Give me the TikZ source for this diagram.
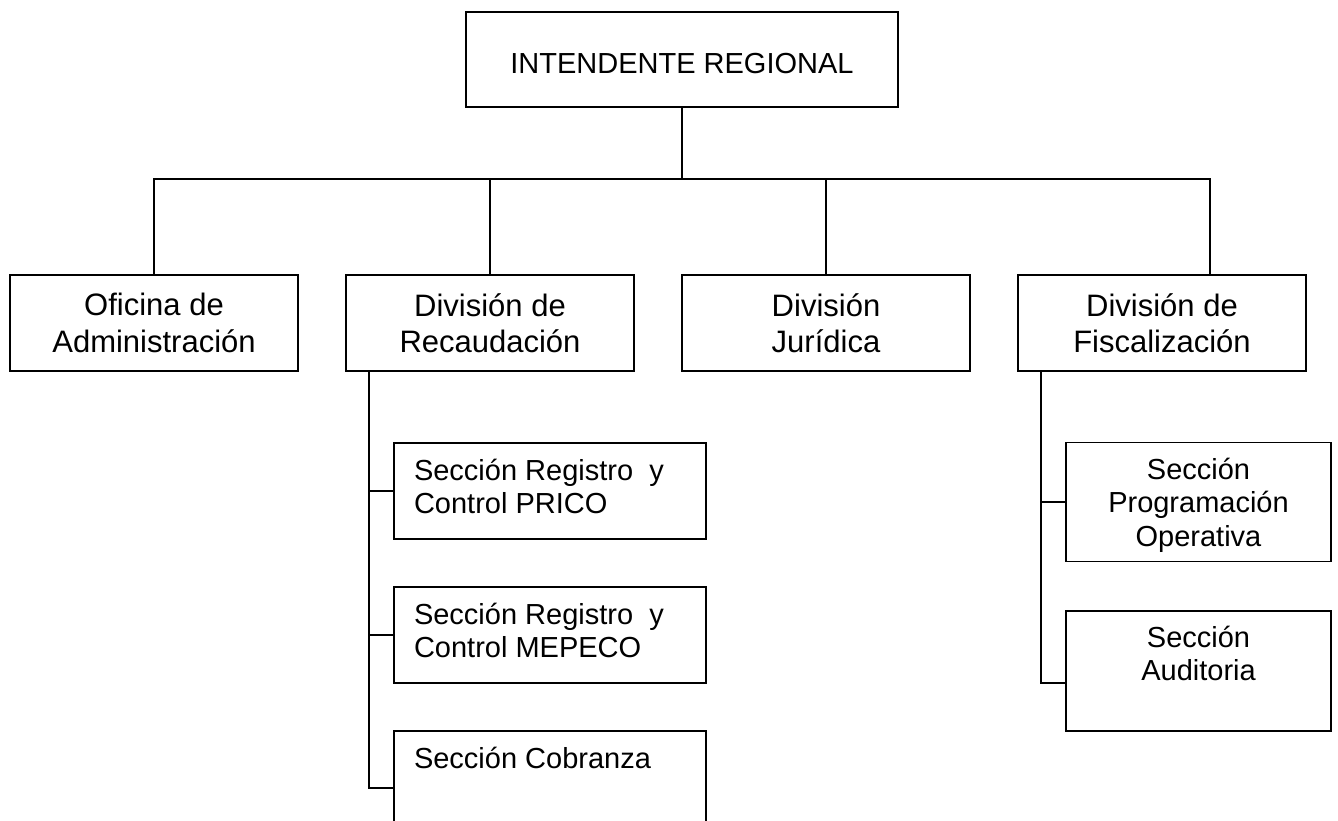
\documentclass[tikz,border=0pt]{standalone}
\usepackage{fontspec}
\setmainfont{Liberation Sans}
\begin{document}
\begin{tikzpicture}[x=1pt,y=-1pt,line width=1.8pt,
  box/.style={draw, line width=1.8pt, inner sep=0pt, fill=white},
  topbox/.style={box, minimum width=432pt, minimum height=95pt, font=\fontsize{29}{33.5}\selectfont, text height=28pt, text depth=0pt},
  divbox/.style={box, minimum width=288pt, minimum height=96pt, align=center, font=\fontsize{31}{36.5}\selectfont},
  secbox/.style={box, minimum width=312pt, minimum height=96pt},
  fsecbox/.style={box, minimum width=265pt, minimum height=119pt},
  lbl/.style={inner sep=0pt, font=\fontsize{29}{33.5}\selectfont}]
\useasboundingbox (0,0) rectangle (1338,821);
\coordinate (bus) at (0,179);
% boxes
\node[topbox] (top) at (682,59.5) {INTENDENTE REGIONAL};
\node[divbox] (ofi) at (154,323) {Oficina de\\Administración};
\node[divbox] (rec) at (490,323) {División de\\Recaudación};
\node[divbox] (jur) at (826,323) {División\\Jurídica};
\node[divbox] (fis) at (1162,323) {División de\\Fiscalización};
\node[secbox] (prico) at (550,491) {};
\node[secbox] (mepeco) at (550,635) {};
\node[secbox, minimum height=114pt] (cob) at (550,788) {};
\node[fsecbox] (prog) at (1198.5,502) {};
\node[fsecbox, minimum height=120pt] (aud) at (1198.5,671) {};
% texts
\node[lbl, anchor=north west, align=left] (tprico) at ([shift={(20,14)}]prico.north west) {\strut Sección Registro~ y\\Control PRICO};
\node[lbl, anchor=north west, align=left] (tmepeco) at ([shift={(20,14)}]mepeco.north west) {\strut Sección Registro~ y\\Control MEPECO};
\node[lbl, anchor=north west, align=left] (tcob) at ([shift={(20,14)}]cob.north west) {\strut Sección Cobranza};
\node[lbl, anchor=north, align=center] (tprog) at ([shift={(0,13.5)}]prog.north) {\strut Sección\\Programación\\Operativa};
\node[lbl, anchor=north, align=center] (taud) at ([shift={(0,13)}]aud.north) {\strut Sección\\Auditoria};
% connectors
\draw (top.south) -- (top.south |- bus);
\draw (ofi.north) -- (ofi.north |- bus) -- ([xshift=48pt]fis.north |- bus) -- ([xshift=48pt]fis.north);
\draw (rec.north) -- (rec.north |- bus);
\draw (jur.north) -- (jur.north |- bus);
\draw ([xshift=24pt]rec.south west) |- (cob.west);
\draw (prico.west) -- ++(-24,0);
\draw (mepeco.west) -- ++(-24,0);
\draw ([xshift=24pt]fis.south west) |- ([yshift=-12pt]aud.west);
\draw (prog.west) -- ++(-24,0);
\end{tikzpicture}
\end{document}
